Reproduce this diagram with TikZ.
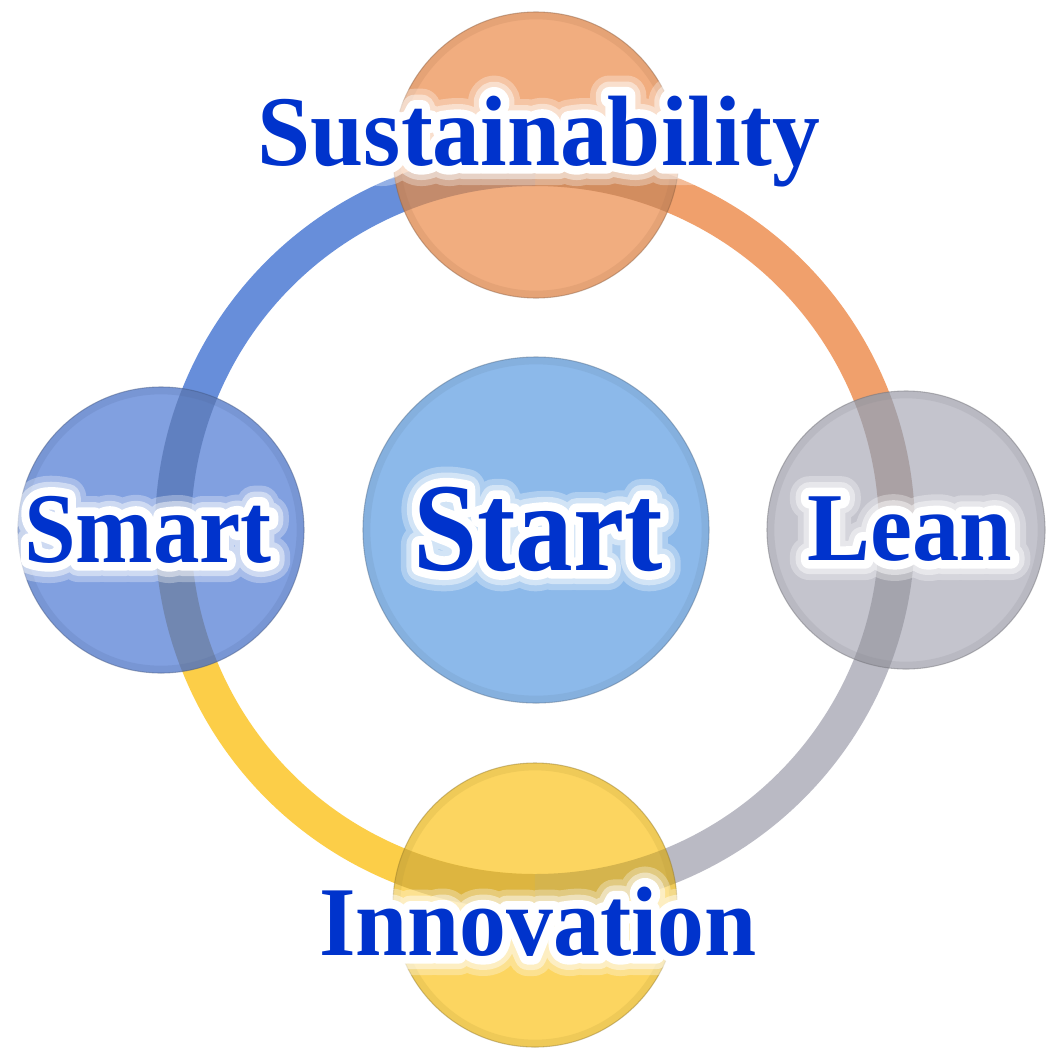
\documentclass[tikz,border=0pt]{standalone}
\usepackage{fontspec}
\setmainfont{Liberation Serif}
\usepackage{graphicx}
\definecolor{cRB}{RGB}{103,142,218}
\definecolor{cRO}{RGB}{240,160,108}
\definecolor{cRG}{RGB}{186,186,196}
\definecolor{cRY}{RGB}{252,206,72}
\definecolor{cSus}{RGB}{240,162,110}
\definecolor{cSma}{RGB}{112,147,220}
\definecolor{cSta}{RGB}{140,185,234}
\definecolor{cLea}{RGB}{188,188,199}
\definecolor{cInn}{RGB}{252,208,74}
\definecolor{cText}{RGB}{0,51,204}
\tikzset{
  ringarc/.style={line width=27pt},
  ball/.style={circle, inner sep=0pt, fill opacity=0.88, draw=none},
  lbl/.style={anchor=base, inner sep=0pt, font=\fontsize{#1}{#1}\selectfont\bfseries},
}
\newcommand\ballshade[3]{%
  \draw[#3!70!black, line width=5pt, opacity=0.16] (#1.center) circle[radius=(#2-4)*0.75pt];
  \draw[#3!60!black, line width=0.8pt, opacity=0.5] (#1.center) circle[radius=#2*0.75pt];
}
\newcommand\outl[2]{\special{pdf:literal direct 1 j 1 J #1 w 1 1 1 RG 1 Tr}#2\special{pdf:literal direct 0 Tr}}
\newcommand\glowlabel[6]{% name, x, y, size, xscale, text
  \foreach \w/\o [count=\i] in {30/0.3,21/0.45,13/1}{%
    \begin{scope}[transparency group, opacity=\o]
      \node[lbl=#4] (#1-g\i) at (#2,#3) {\scalebox{#5}[1]{\outl{\w}{#6}}};
    \end{scope}
  }
  \node[lbl=#4, text=cText] (#1) at (#2,#3) {\scalebox{#5}[1]{#6}};
}
\begin{document}
\begin{tikzpicture}[x=0.75pt,y=-0.75pt]
\path[use as bounding box, fill=white] (0,0) rectangle (1046,1053);
\coordinate (rc) at (535,530);
% ring
\draw[ringarc, cRO] ([shift={(-1:271.5pt)}]rc) arc[start angle=-1, end angle=91, radius=271.5pt];
\draw[ringarc, cRB] ([shift={(90:271.5pt)}]rc) arc[start angle=90, end angle=181, radius=271.5pt];
\draw[ringarc, cRY] ([shift={(180:271.5pt)}]rc) arc[start angle=180, end angle=271, radius=271.5pt];
\draw[ringarc, cRG] ([shift={(270:271.5pt)}]rc) arc[start angle=270, end angle=360, radius=271.5pt];
% circles
\node[ball, minimum size=286*0.75pt, fill=cSus] (sus) at (536,155) {};
\node[ball, minimum size=284*0.75pt, fill=cInn] (inn) at (535,905) {};
\node[ball, minimum size=286*0.75pt, fill=cSma] (sma) at (161,530) {};
\node[ball, minimum size=278*0.75pt, fill=cLea] (lea) at (906,530) {};
\node[ball, minimum size=346*0.75pt, fill=cSta, fill opacity=1] (sta) at (536,530) {};
% ring darkened under circles
\begin{scope}
  \clip (sus.center) circle[radius=143*0.75pt] (inn.center) circle[radius=142*0.75pt]
        (sma.center) circle[radius=143*0.75pt] (lea.center) circle[radius=139*0.75pt];
  \draw[ringarc, black, opacity=0.12] (rc) circle[radius=271.5pt];
\end{scope}
\ballshade{sus}{143}{cSus}
\ballshade{inn}{142}{cInn}
\ballshade{sma}{143}{cSma}
\ballshade{lea}{139}{cLea}
\ballshade{sta}{173}{cSta}
% labels
\glowlabel{tSus}{539}{165}{75pt}{0.955}{Sustainability}
\glowlabel{tSta}{538}{570}{94.5pt}{0.915}{Start}
\glowlabel{tSma}{148}{562}{75pt}{0.93}{Smart}
\glowlabel{tLea}{910}{560}{73pt}{0.97}{Lean}
\glowlabel{tInn}{538}{955}{74pt}{0.95}{Innovation}
\end{tikzpicture}
\end{document}
